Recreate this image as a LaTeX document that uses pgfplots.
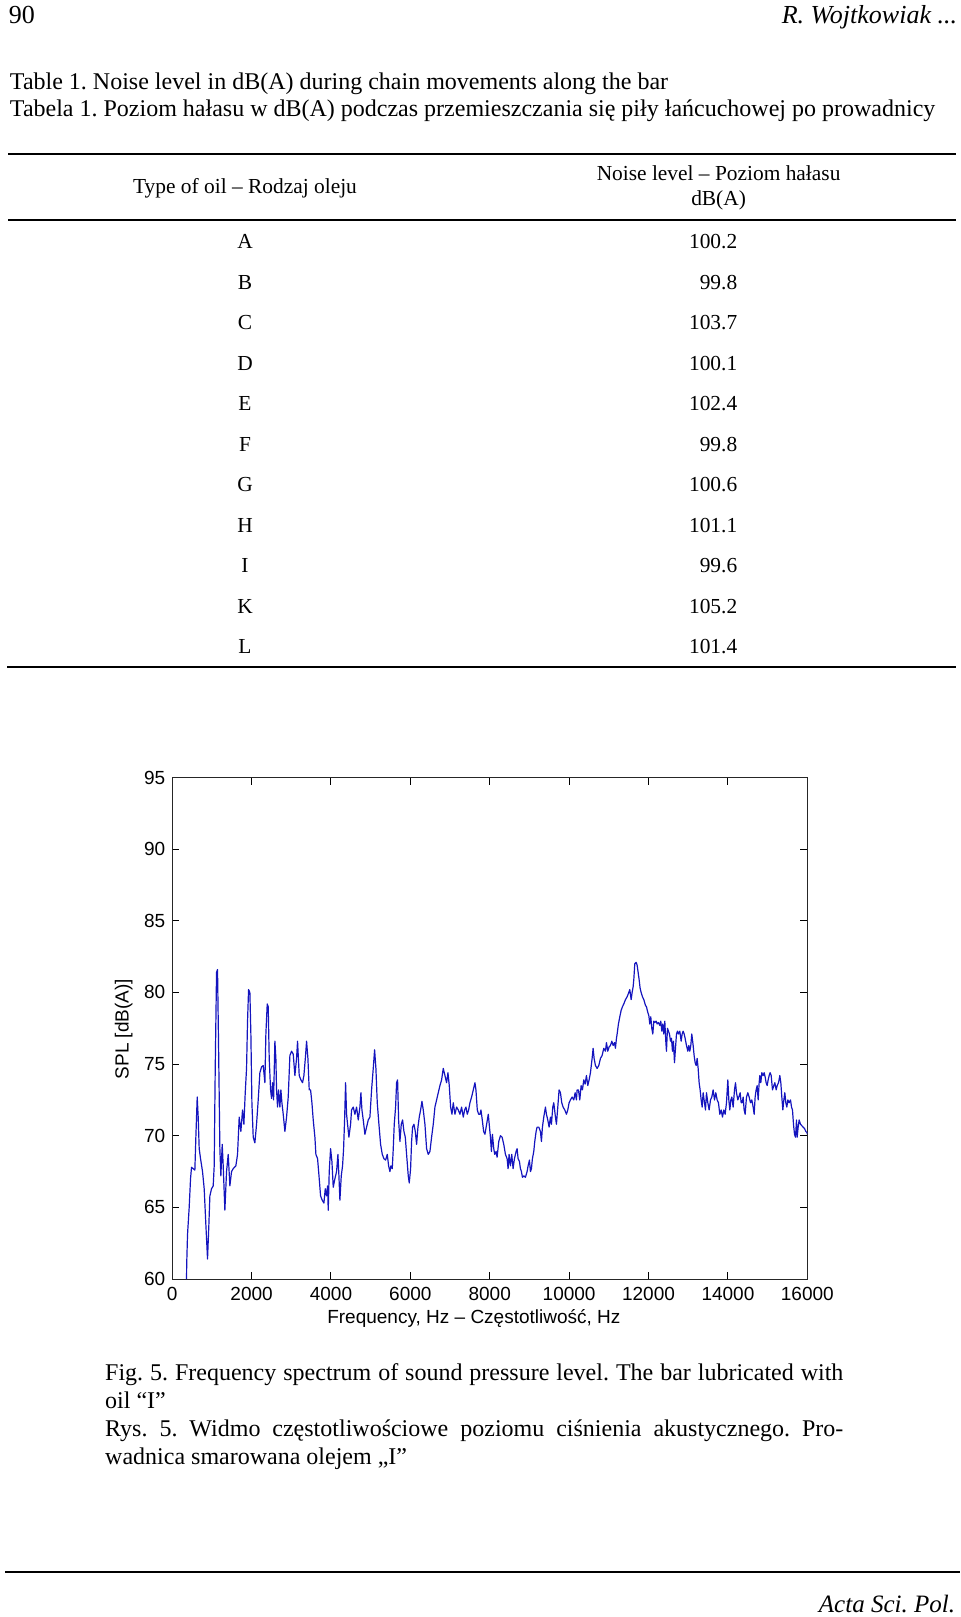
\documentclass[border=0pt]{standalone}
\usepackage{fontspec}
\setmainfont{Liberation Serif}
\setsansfont{Liberation Sans}
\usepackage{pgfplots}
\pgfplotsset{compat=1.18}
\definecolor{specblue}{RGB}{20,20,190}
\frenchspacing

\pgfplotstableread{
f spl
361 60.0
365 61.0
386 63.1
428 65.0
462 67.0
487 67.8
529 67.7
571 67.6
596 69.9
630 72.7
655 71.3
680 69.1
714 68.4
764 67.5
806 66.3
848 63.8
890 61.4
924 63.8
949 65.8
991 66.3
1033 66.5
1058 67.9
1084 74.7
1117 81.4
1142 81.6
1168 76.3
1201 69.1
1226 67.2
1260 69.4
1285 67.9
1327 64.8
1369 67.5
1411 68.7
1453 66.5
1495 67.5
1537 67.7
1604 67.9
1646 68.7
1688 71.3
1730 70.3
1772 71.8
1806 70.8
1840 73.0
1873 74.7
1898 78.0
1924 80.2
1957 80.0
1982 77.1
2008 72.3
2041 69.9
2083 69.5
2125 70.8
2167 72.5
2209 74.4
2251 74.8
2293 74.9
2335 73.7
2360 77.1
2394 79.2
2419 79.0
2444 75.4
2478 73.2
2503 72.6
2528 73.7
2554 72.5
2587 76.6
2612 75.4
2629 73.2
2654 72.0
2680 73.2
2713 72.0
2738 73.2
2764 72.3
2797 71.5
2839 70.3
2881 71.3
2923 72.7
2965 75.6
3007 75.9
3049 75.7
3091 74.2
3133 75.4
3158 76.6
3200 74.2
3242 73.9
3284 73.7
3318 74.2
3360 75.6
3385 76.6
3419 75.4
3452 73.2
3486 73.2
3520 72.3
3553 71.1
3595 69.9
3620 68.7
3662 68.4
3704 67.0
3738 65.8
3780 65.5
3822 65.3
3856 66.3
3889 65.8
3914 66.5
3931 64.8
3956 67.5
3990 69.1
4024 68.2
4057 66.4
4099 67.0
4141 67.5
4175 68.7
4200 67.2
4225 65.5
4259 67.2
4292 67.9
4318 69.1
4343 71.1
4368 73.7
4393 71.5
4418 70.8
4452 69.9
4494 70.8
4519 71.8
4561 72.0
4603 71.5
4645 72.0
4687 71.1
4729 72.0
4754 73.0
4780 71.8
4813 71.1
4855 70.1
4897 70.6
4939 71.1
4981 71.3
5023 73.2
5065 74.7
5099 76.0
5132 74.7
5166 72.3
5208 70.8
5250 69.4
5292 68.7
5334 68.4
5376 68.3
5418 68.7
5452 67.9
5485 67.5
5510 67.9
5544 67.7
5569 69.1
5594 70.8
5628 72.0
5653 73.7
5678 73.9
5704 71.1
5737 69.6
5771 70.8
5804 71.1
5838 70.3
5872 69.9
5905 68.7
5947 67.2
5972 66.7
6006 67.7
6031 69.6
6056 70.6
6090 70.8
6124 70.3
6157 69.4
6191 70.6
6224 71.3
6258 71.8
6292 72.4
6325 71.8
6367 70.8
6409 69.1
6451 68.7
6493 68.9
6535 69.9
6577 70.8
6619 72.0
6661 72.5
6703 73.0
6745 73.5
6787 73.9
6829 74.7
6871 74.2
6913 73.7
6947 74.4
6980 73.5
7014 72.0
7048 71.5
7081 72.3
7123 71.5
7165 72.0
7207 71.8
7249 71.5
7291 72.0
7333 71.3
7367 71.8
7400 72.0
7434 71.5
7468 71.8
7501 72.3
7543 72.7
7585 73.2
7627 73.7
7652 73.2
7686 71.8
7720 71.5
7753 71.5
7778 71.8
7812 71.1
7846 70.3
7879 70.1
7921 70.8
7963 71.5
8017 69.9
8042 68.9
8067 70.1
8101 69.1
8126 68.7
8160 68.9
8185 68.5
8227 69.6
8269 70.0
8311 69.9
8353 69.4
8395 68.7
8437 68.4
8462 67.7
8487 68.7
8521 67.9
8554 68.7
8588 67.7
8622 68.4
8664 68.9
8689 69.1
8714 68.4
8748 68.2
8773 67.7
8798 67.5
8823 67.1
8857 67.2
8899 67.1
8941 67.5
8966 67.9
9000 68.3
9025 67.5
9050 67.7
9075 68.4
9109 68.9
9134 69.6
9168 70.3
9193 70.6
9235 70.6
9277 70.3
9302 69.6
9327 70.6
9361 71.3
9403 72.0
9428 71.5
9462 71.1
9495 70.6
9529 71.3
9554 70.8
9588 72.0
9613 72.3
9655 71.3
9680 70.8
9714 72.0
9747 73.2
9781 73.0
9814 72.3
9848 72.0
9890 71.8
9932 71.5
9966 71.8
9999 72.3
10033 72.5
10075 72.7
10117 72.5
10151 73.0
10184 72.5
10201 73.2
10235 73.2
10268 72.5
10302 73.5
10335 73.2
10369 73.9
10402 73.6
10436 74.2
10470 73.5
10503 73.9
10537 74.4
10579 75.4
10604 76.1
10629 75.4
10663 74.9
10705 74.7
10747 74.9
10789 75.4
10831 75.6
10873 76.1
10915 75.9
10940 76.5
10974 75.9
11007 76.2
11041 76.3
11075 76.6
11108 76.3
11142 76.5
11167 76.1
11192 76.8
11209 77.1
11242 77.8
11276 78.3
11310 78.75
11343 79.0
11377 79.2
11419 79.5
11461 79.7
11503 80.0
11528 80.2
11562 79.5
11587 80.0
11612 80.4
11629 80.9
11654 82.0
11688 82.1
11713 81.9
11738 81.4
11763 80.9
11788 80.3
11814 80.0
11847 79.7
11881 79.5
11923 79.1
11948 79.0
11982 78.6
12007 78.4
12032 77.8
12057 78.3
12082 77.5
12108 77.1
12133 78.0
12158 77.9
12192 78.0
12217 77.8
12250 77.9
12284 77.7
12309 78.0
12334 77.3
12359 77.8
12385 77.1
12410 78.0
12435 76.6
12452 75.9
12477 77.5
12502 77.3
12528 77.1
12553 76.6
12578 76.8
12603 75.9
12628 76.6
12654 75.1
12679 76.1
12704 77.1
12729 77.3
12754 77.1
12788 77.3
12822 76.6
12847 77.1
12872 77.3
12897 77.1
12922 76.8
12956 76.3
12990 75.9
13015 76.3
13040 75.9
13065 76.3
13090 77.1
13124 76.3
13149 75.6
13174 75.1
13200 74.9
13225 75.4
13250 74.7
13275 73.7
13300 73.2
13326 72.5
13351 72.0
13376 73.0
13410 72.3
13435 71.8
13460 73.0
13494 72.3
13527 71.8
13561 72.5
13594 72.7
13628 73.2
13662 72.5
13695 73.0
13729 72.5
13762 72.3
13796 71.5
13830 71.8
13863 71.3
13897 71.8
13930 71.5
13964 72.3
13998 73.9
14023 72.5
14048 71.8
14074 72.5
14099 72.7
14132 72.0
14166 73.2
14191 73.7
14216 73.0
14250 72.5
14275 72.7
14308 73.0
14334 72.3
14359 72.3
14384 72.7
14409 71.8
14434 71.5
14468 72.7
14502 73.0
14535 72.7
14569 72.3
14602 72.5
14636 72.0
14661 71.5
14686 72.7
14711 73.2
14737 73.5
14762 72.5
14787 73.7
14804 74.2
14829 73.7
14854 74.4
14888 74.2
14913 74.4
14938 74.1
14963 73.7
14989 73.5
15014 73.9
15039 74.2
15064 74.4
15090 74.2
15123 73.2
15157 73.5
15182 73.7
15216 73.2
15241 73.5
15275 73.7
15308 74.2
15333 73.7
15358 72.7
15384 71.8
15409 72.5
15434 73.0
15459 72.3
15484 72.0
15510 72.5
15543 72.3
15577 72.5
15602 72.0
15627 71.8
15652 70.8
15678 70.1
15703 69.9
15728 71.1
15745 69.9
15770 70.6
15795 71.1
15829 70.8
15862 70.7
15896 70.6
15930 70.5
15963 70.3
15997 70.2
16000 70.1
}\spectrum

\begin{document}
\begin{tikzpicture}
\path[use as bounding box] (0pt,0pt) rectangle (480pt,-808.5pt);
\begin{scope}[x=0.5pt,y=-0.5pt,every node/.style={inner sep=0pt,outer sep=0pt}]
% running head
\node[anchor=base west,font=\fontsize{13}{15}\selectfont] at (9,23.2) {90};
\node[anchor=base east,font=\fontsize{13}{15}\selectfont\itshape] at (957,23.2) {R. Wojtkowiak ...};
% table captions
\node[anchor=base west,font=\fontsize{12}{14}\selectfont] at (10,89) {Table 1. Noise level in dB(A) during chain movements along the bar};
\node[anchor=base west,font=\fontsize{12}{14}\selectfont] at (10,116.8) {Tabela 1. Poziom hałasu w dB(A) podczas przemieszczania się piły łańcuchowej po prowadnicy};
% table rules
\draw[line width=0.9pt] (8.2,153.6) -- (956,153.6);
\draw[line width=0.9pt] (8.2,219.6) -- (956,219.6);
\draw[line width=0.9pt] (7.2,667) -- (956,667);
% table header
\node[anchor=base,font=\fontsize{10.7}{12}\selectfont] at (245,193) {Type of oil -- Rodzaj oleju};
\node[anchor=base,font=\fontsize{10.7}{12}\selectfont] at (718.6,180.7) {Noise level -- Poziom hałasu};
\node[anchor=base,font=\fontsize{10.7}{12}\selectfont] at (718.6,205.5) {dB(A)};
% table body
\foreach \l/\v [count=\i from 0] in {A/100.2,B/99.8,C/103.7,D/100.1,E/102.4,F/99.8,G/100.6,H/101.1,I/99.6,K/105.2,L/101.4}{
  \node[anchor=base,font=\fontsize{10.7}{12}\selectfont] at (245,248.6+40.52*\i) {\l};
  \node[anchor=base east,font=\fontsize{10.7}{12}\selectfont] at (737.2,248.6+40.52*\i) {\v};
}
% figure caption
\node[anchor=base west,font=\fontsize{12}{14}\selectfont] at (105.2,1380.8) {\makebox[369.1pt][s]{Fig. 5. Frequency spectrum of sound pressure level. The bar lubricated with}};
\node[anchor=base west,font=\fontsize{12}{14}\selectfont] at (105.2,1408.5) {oil “I”};
\node[anchor=base west,font=\fontsize{12}{14}\selectfont] at (105.2,1436.5) {\makebox[369.1pt][s]{Rys. 5. Widmo częstotliwościowe poziomu ciśnienia akustycznego. Pro-}};
\node[anchor=base west,font=\fontsize{12}{14}\selectfont] at (105.2,1464.5) {wadnica smarowana olejem „I”};
% footer
\draw[line width=0.9pt] (5,1572) -- (960,1572);
\node[anchor=base east,font=\fontsize{12.5}{14}\selectfont\itshape] at (955,1612) {Acta Sci. Pol.};
\end{scope}

\begin{axis}[
  at={(86.1pt,-639.5pt)}, anchor=south west,
  scale only axis, width=317.55pt, height=250.75pt,
  xmin=0, xmax=16000, ymin=60, ymax=95,
  xtick={0,2000,...,16000}, ytick={60,65,...,95},
  scaled x ticks=false,
  /pgf/number format/1000 sep={},
  /pgf/number format/assume math mode=true,
  tick align=inside, major tick length=3.5pt,
  every tick/.style={black, line width=0.5pt},
  axis line style={black!85, line width=0.5pt},
  ticklabel style={font=\fontsize{9.5}{11}\sffamily},
  xticklabel style={yshift=-0.8pt},
  xlabel={Frequency, Hz -- Częstotliwość, Hz},
  ylabel={SPL [dB(A)]},
  label style={font=\fontsize{9.5}{11}\sffamily},
  x label style={at={(axis description cs:0.475,-0.0794)}, anchor=center},
  y label style={at={(axis description cs:-0.0764,0.4985)}, anchor=center},
]
\addplot[specblue, line width=0.6pt, line join=round] table[x=f,y=spl] {\spectrum};
\end{axis}
\end{tikzpicture}
\end{document}
